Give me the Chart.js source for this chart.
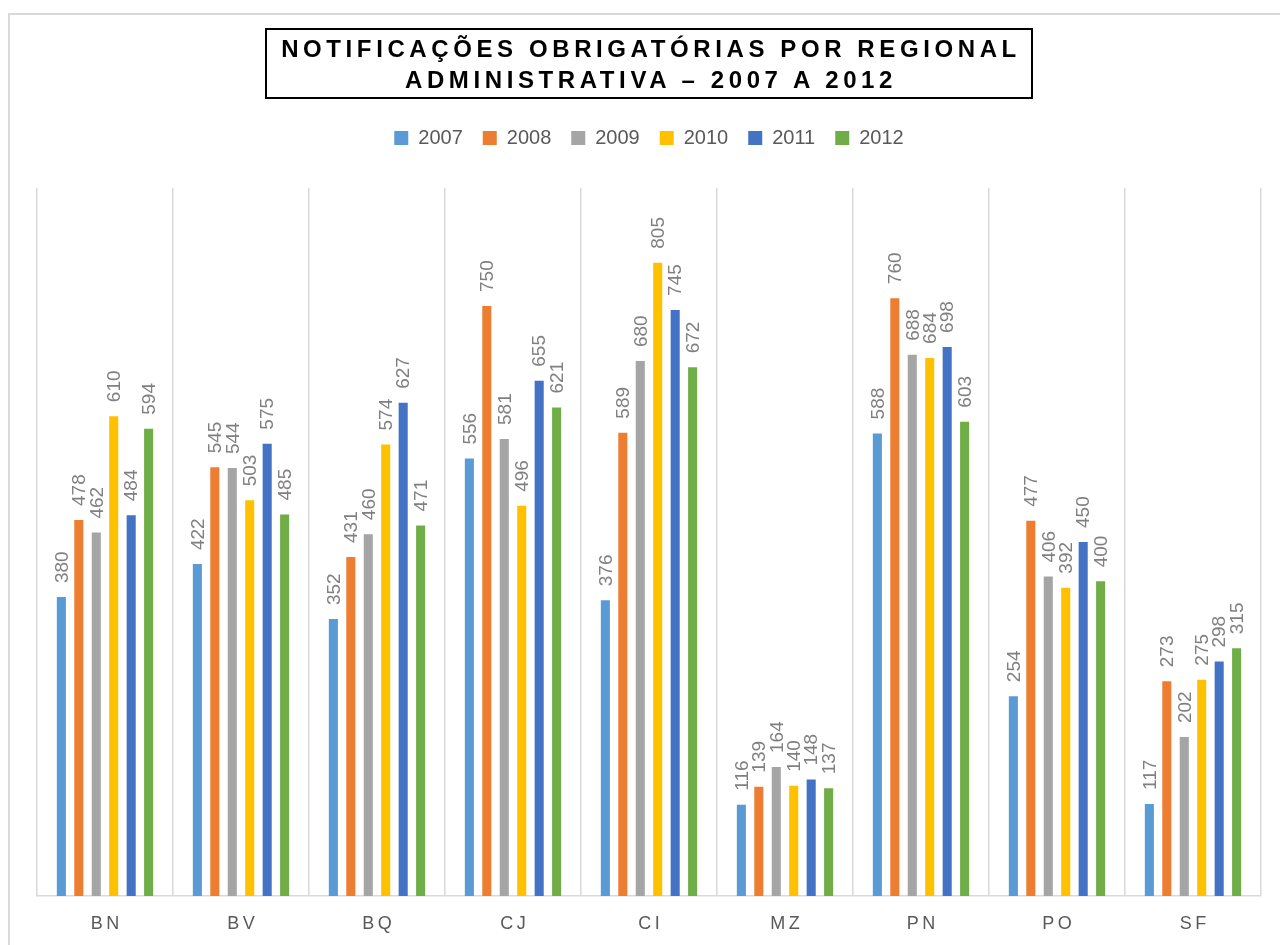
<!DOCTYPE html>
<html>
<head>
<meta charset="utf-8">
<script src="https://cdn.jsdelivr.net/npm/chart.js@4"></script>
<style>
  html, body { margin: 0; padding: 0; background: #fff; }
  #wrap { position: relative; width: 1280px; height: 945px; overflow: hidden; }
  #frame {
    position: absolute; left: 8px; top: 13px; width: 1320px; height: 1000px;
    border: 2px solid #d9d9d9; box-sizing: border-box;
  }
  #title {
    position: absolute; left: 265px; top: 28px; width: 768px; height: 71px;
    border: 2px solid #000; box-sizing: border-box;
    font: bold 24px "Liberation Sans", Arial, sans-serif;
    letter-spacing: 4.6px; line-height: 31px; text-align: center;
    color: #000; padding-top: 3px; padding-left: 4px;
  }
  canvas { position: absolute; left: 0; top: 0; }
</style>
</head>
<body>
<div id="wrap">
  <div id="frame"></div>
  <canvas id="chart" width="1280" height="945"></canvas>
  <div id="title">NOTIFICAÇÕES OBRIGATÓRIAS POR REGIONAL<br>ADMINISTRATIVA – 2007 A 2012</div>
</div>
<script>
// regionais administrativas
const regionais = ['BN', 'BV', 'BQ', 'CJ', 'CI', 'MZ', 'PN', 'PO', 'SF'];
const anos = ['2007', '2008', '2009', '2010', '2011', '2012'];

const v2007 = [380, 422, 352, 556, 376, 116, 588, 254, 117];
const v2008 = [478, 545, 431, 750, 589, 139, 760, 477, 273];
const v2009 = [462, 544, 460, 581, 680, 164, 688, 406, 202];
const v2010 = [610, 503, 574, 496, 805, 140, 684, 392, 275];
const v2011 = [484, 575, 627, 655, 745, 148, 698, 450, 298];
const v2012 = [594, 485, 471, 621, 672, 137, 603, 400, 315];

const cores = ['#5B9BD5', '#ED7D31', '#A5A5A5', '#FFC000', '#4472C4', '#70AD47'];
const series = [v2007, v2008, v2009, v2010, v2011, v2012];

// rótulos verticais acima de cada barra
const barLabels = {
  id: 'barLabels',
  afterDatasetsDraw(chart) {
    const ctx = chart.ctx;
    ctx.save();
    ctx.font = '19px "Liberation Sans", Arial, sans-serif';
    ctx.fillStyle = '#808080';
    ctx.textAlign = 'left';
    ctx.textBaseline = 'middle';
    chart.data.datasets.forEach((ds, i) => {
      chart.getDatasetMeta(i).data.forEach((bar, j) => {
        ctx.save();
        ctx.translate(bar.x, bar.y - 14);
        ctx.rotate(-Math.PI / 2);
        ctx.fillText(String(ds.data[j]), 0, 1);
        ctx.restore();
      });
    });
    ctx.restore();
  }
};

// espaço extra abaixo da legenda
const legendMargin = {
  id: 'legendMargin',
  beforeInit(chart) {
    const fit = chart.legend.fit;
    chart.legend.fit = function () {
      fit.bind(chart.legend)();
      this.height += 30;
    };
  }
};

new Chart(document.getElementById('chart'), {
  type: 'bar',
  data: {
    labels: regionais,
    datasets: anos.map((a, i) => ({
      label: a,
      data: series[i],
      backgroundColor: cores[i],
      categoryPercentage: 0.77,
      barPercentage: 0.52,
    })),
  },
  options: {
    responsive: false,
    animation: false,
    layout: { padding: { top: 108, left: 37, right: 19, bottom: 0 } },
    scales: {
      x: {
        grid: { color: '#d9d9d9', lineWidth: 1.5, drawTicks: false, offset: true },
        border: { color: '#d9d9d9', width: 1.5 },
        ticks: {
          color: '#595959',
          font: { family: '"Liberation Sans", Arial, sans-serif', size: 18 },
          padding: 17,
          callback: function (v) { return this.getLabelForValue(v).split('').join('\u2009'); },
        },
        afterFit: (scale) => { scale.height = 49; },
      },
      y: { display: false, min: 0, max: 900 },
    },
    plugins: {
      legend: {
        position: 'top',
        labels: {
          boxWidth: 14,
          boxHeight: 14,
          padding: 20,
          color: '#595959',
          font: { family: '"Liberation Sans", Arial, sans-serif', size: 20 },
        },
      },
      tooltip: { enabled: false },
    },
  },
  plugins: [barLabels, legendMargin],
});
</script>
</body>
</html>
